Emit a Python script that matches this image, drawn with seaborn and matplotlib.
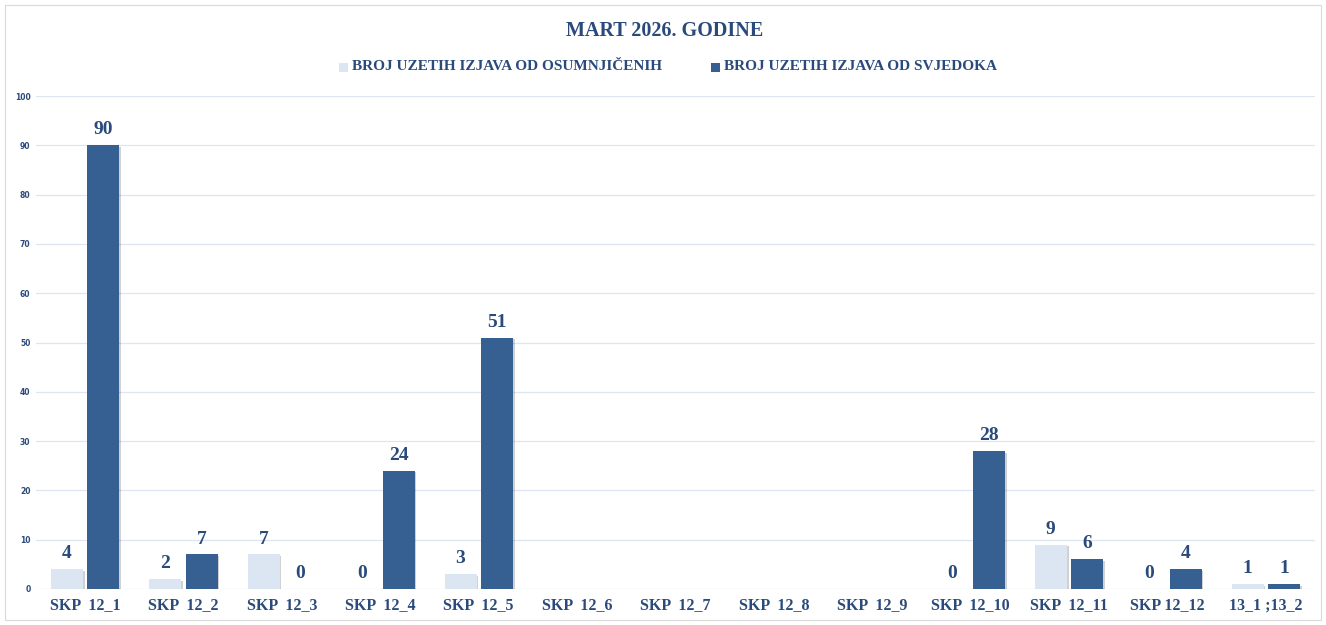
import numpy as np
import pandas as pd
import matplotlib
matplotlib.use("Agg")
import matplotlib.pyplot as plt
import matplotlib.patheffects as pe
import seaborn as sns
from matplotlib.patches import Rectangle

categories = ["SKP  12_1", "SKP  12_2", "SKP  12_3", "SKP  12_4", "SKP  12_5", "SKP  12_6",
              "SKP  12_7", "SKP  12_8", "SKP  12_9", "SKP  12_10", "SKP  12_11", "SKP 12_12",
              "13_1 ;13_2"]
osumnjiceni = [4, 2, 7, 0, 3, np.nan, np.nan, np.nan, np.nan, 0, 9, 0, 1]
svjedoci = [90, 7, 0, 24, 51, np.nan, np.nan, np.nan, np.nan, 28, 6, 4, 1]
series_names = ["BROJ UZETIH IZJAVA OD OSUMNJIČENIH", "BROJ UZETIH IZJAVA OD SVJEDOKA"]
title = "MART 2026. GODINE"
yticks = list(range(0, 101, 10))

light = "#DCE6F2"
dark = "#376092"
txt = "#2A4A7B"

df = pd.DataFrame({
    "cat": categories * 2,
    "val": osumnjiceni + svjedoci,
    "series": [series_names[0]] * len(categories) + [series_names[1]] * len(categories),
})

sns.set_theme(style="white")
plt.rcParams["font.family"] = ["Liberation Serif", "DejaVu Serif"]

fig = plt.figure(figsize=(13.26, 6.25), dpi=100)
ax = fig.add_axes([36 / 1326, 36 / 625, (1315 - 36) / 1326, (589 - 96) / 625])

sns.barplot(data=df, x="cat", y="val", hue="series", order=categories,
            hue_order=series_names, palette=[light, dark], width=0.74, gap=0.12,
            ax=ax, legend=False, saturation=1, edgecolor="none")

shadow = [pe.SimplePatchShadow(offset=(1.2, -1.2), shadow_rgbFace="#000000", alpha=0.18), pe.Normal()]
for p in ax.patches:
    p.set_path_effects(shadow)

ax.set_ylim(0, 100)
ax.set_xlim(-0.5, len(categories) - 0.5)
ax.set_yticks(yticks)
ax.set_yticklabels([str(t) for t in yticks], fontsize=5.5, fontweight="bold",
                   color=txt, family="DejaVu Sans")
ax.tick_params(axis="y", length=0, pad=4)
ax.tick_params(axis="x", length=0, pad=6)
ax.set_xticks(range(len(categories)))
ax.set_xticklabels(categories, fontsize=11.5, fontweight="bold", color=txt)
ax.set_xlabel("")
ax.set_ylabel("")
ax.grid(axis="y", color="#DCE5F1", linewidth=0.9)
ax.set_axisbelow(True)
for s in ["top", "right", "left", "bottom"]:
    ax.spines[s].set_visible(False)

for cont in ax.containers:
    labels = ["" if np.isnan(v) else f"{v:g}" for v in cont.datavalues]
    ax.bar_label(cont, labels=labels, padding=5, fontsize=14, fontweight="bold", color=txt)

fig.text(0.5015, 1 - 31 / 625, title, ha="center", va="center", fontsize=14.5,
         fontweight="bold", color=txt)

# legend
ly = 1 - 67 / 625
for xpx, name, col in [(339, series_names[0], light), (711, series_names[1], dark)]:
    fig.patches.append(Rectangle((xpx / 1326, ly - 4.5 / 625), 9 / 1326, 9 / 625,
                                 transform=fig.transFigure, facecolor=col, edgecolor="none"))
    fig.text((xpx + 13) / 1326, ly, name, ha="left", va="center", fontsize=11,
             fontweight="bold", color=txt)

fig.patches.append(Rectangle((5 / 1326, 5 / 625), 1316 / 1326, 615 / 625,
                             transform=fig.transFigure, facecolor="none",
                             edgecolor="#D9D9D9", linewidth=0.8))

fig.savefig("out.png", dpi=100, facecolor="white")
